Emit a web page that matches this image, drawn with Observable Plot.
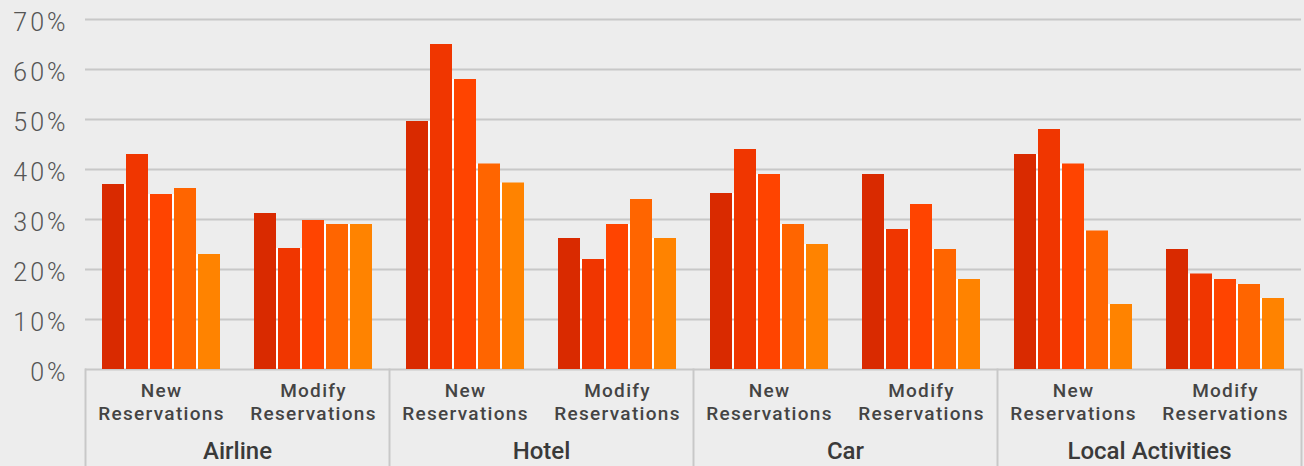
<!DOCTYPE html>
<html><head><meta charset="utf-8">
<script src="https://cdn.jsdelivr.net/npm/d3@7"></script>
<script src="https://cdn.jsdelivr.net/npm/@observablehq/plot@0.6"></script>
<style>
html,body{margin:0;padding:0;background:#ededed;}
g[aria-label="y-axis tick label"] text{letter-spacing:3px;}
g[aria-label="fx-axis tick label"] text{letter-spacing:1.3px;}
g[aria-label="category label"] text{letter-spacing:2.2px;}
</style></head><body><div id="chart"></div>
<script>
// ---- data ----
const categories = ["Airline", "Hotel", "Car", "Local Activities"];
const subgroups = ["New Reservations", "Modify Reservations"];
const series = ["Series 1", "Series 2", "Series 3", "Series 4", "Series 5"];
const seriesColors = ["#d92a00", "#f03600", "#ff4400", "#ff6500", "#ff8300"];

const airlineNew    = [37, 43, 35, 36.2, 23];
const airlineModify = [31.2, 24.2, 29.8, 29, 29];
const hotelNew      = [49.6, 65, 58, 41.1, 37.3];
const hotelModify   = [26.2, 22, 29, 34, 26.2];
const carNew        = [35.2, 44, 39, 29, 25];
const carModify     = [39, 28, 33, 24, 18];
const localNew      = [43, 48, 41.1, 27.7, 13];
const localModify   = [24, 19.1, 18, 17, 14.2];

const yTicks = [0, 10, 20, 30, 40, 50, 60, 70];

// ---- table built from the arrays ----
const valueTable = {
  "Airline": [airlineNew, airlineModify],
  "Hotel": [hotelNew, hotelModify],
  "Car": [carNew, carModify],
  "Local Activities": [localNew, localModify]
};
const rows = [];
categories.forEach(c => subgroups.forEach((s, si) => {
  const vals = valueTable[c][si];
  vals.forEach((v, i) =>
    rows.push({category: c, subgroup: s, facet: c + "|" + s, series: series[i], value: v,
               gapTop: i < vals.length - 1 ? Math.min(v, vals[i + 1]) : null}));
}));
const facetKeys = categories.flatMap(c => subgroups.map(s => c + "|" + s));

const W = 1304, H = 466, mL = 83, mR = 2, mT = 19, mB = 97;
const frameH = H - mT - mB;
const gridColor = "#c8c8c8";
const font = "Roboto, 'Open Sans', sans-serif";

const chart = Plot.plot({
  width: W, height: H,
  marginLeft: mL, marginRight: mR, marginTop: mT, marginBottom: mB,
  style: {background: "#ededed", fontFamily: font, color: "#444", overflow: "visible"},
  fx: {domain: facetKeys, padding: 0, axis: null, label: null},
  x: {domain: series, paddingInner: 0.1, paddingOuter: 0.66, axis: null},
  y: {domain: [0, 70], axis: null},
  color: {domain: series, range: seriesColors},
  marks: [
    // white separators between adjacent bars
    Plot.barY(rows.filter(d => d.gapTop != null),
      {fx: "facet", x: "series", y: "gapTop", fill: "white", insetRight: -2}),
    Plot.ruleY(yTicks, {stroke: gridColor, strokeWidth: 2}),
    Plot.barY(rows, {fx: "facet", x: "series", y: "value", fill: "series"}),
    Plot.axisY({ticks: yTicks, tickSize: 0, tickPadding: 17, dy: 3, tickFormat: d => d + "%",
      fontSize: 25, fontWeight: 300, fill: "#555", label: null}),
    Plot.axisFx({anchor: "bottom", tickSize: 0, tickPadding: 11, fontSize: 19, fontWeight: 500,
      lineHeight: 1.21, fill: "#444", label: null,
      tickFormat: k => k.split("|")[1].replace(" ", "\n")}),
    Plot.text(categories, {fx: d => d + "|" + subgroups[0], text: d => d,
      frameAnchor: "bottom-right", textAnchor: "middle", lineAnchor: "middle", dy: 82,
      fontSize: 24, fontWeight: 500, fill: "#3a3a3a", ariaLabel: "category label"}),
    ...categories.map(c => Plot.frame({anchor: "left", fx: () => c + "|" + subgroups[0],
      insetTop: frameH, insetBottom: -mB, stroke: gridColor, strokeWidth: 2})),
    Plot.frame({anchor: "right", fx: () => facetKeys[facetKeys.length - 1],
      insetTop: frameH, insetBottom: -mB, stroke: gridColor, strokeWidth: 2})
  ]
});
document.getElementById("chart").appendChild(chart);
</script>
</body></html>
